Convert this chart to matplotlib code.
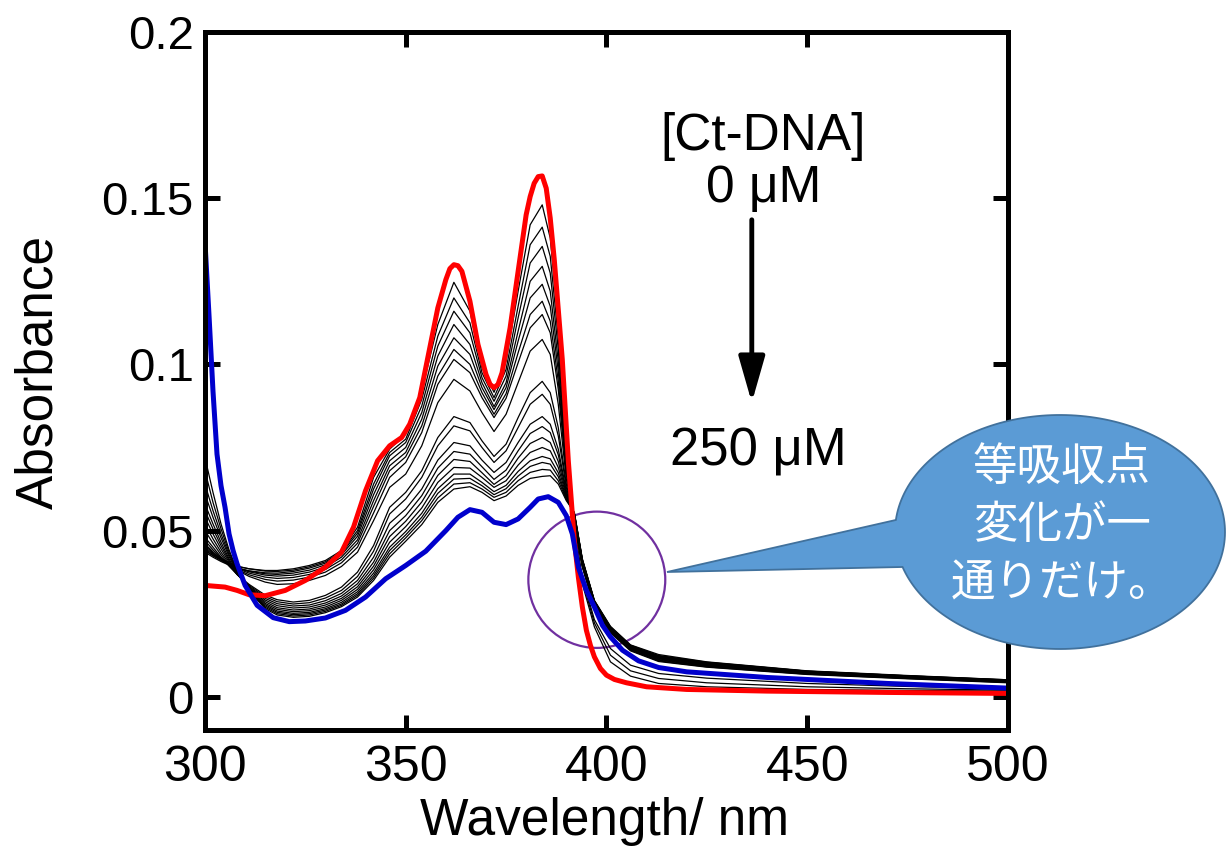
import numpy as np
import matplotlib.pyplot as plt
from matplotlib.patches import Ellipse, Polygon

plt.rcParams['font.family'] = ['Liberation Sans', 'Noto Sans CJK JP', 'DejaVu Sans']

# 0 uM spectrum (red)
RED_NM = [300, 305, 308, 311, 315, 320, 325, 330, 334, 337, 340, 343, 346, 349, 351,
          353.5, 356, 358, 360, 361, 362, 363, 364, 366, 368, 370, 371, 372, 373, 374,
          376, 378, 380, 381, 382, 383, 384, 385, 386, 387, 389, 390.5, 392, 393, 394,
          395, 396, 397, 398.5, 400, 402, 405, 410, 420, 440, 470, 500]
RED_ABS = [0.0335, 0.0330, 0.0320, 0.0307, 0.0304, 0.0320, 0.0350, 0.0390, 0.0435, 0.0510,
           0.0620, 0.0710, 0.0755, 0.0780, 0.0820, 0.0900, 0.1050, 0.1170, 0.1255, 0.1288,
           0.1300, 0.1297, 0.1280, 0.1190, 0.1060, 0.0970, 0.0940, 0.0930, 0.0940, 0.0975,
           0.1110, 0.1280, 0.1450, 0.1505, 0.1545, 0.1565, 0.1567, 0.1530, 0.1440, 0.1316,
           0.1015, 0.0710, 0.0470, 0.0360, 0.0270, 0.0200, 0.0155, 0.0120, 0.0085, 0.0065,
           0.0052, 0.0042, 0.0030, 0.0022, 0.0017, 0.0013, 0.0010]

# 250 uM spectrum (blue)
BLUE_NM = [300, 301, 302, 303, 304, 305, 306, 307, 308, 310, 313, 317, 321, 325, 330,
           335, 340, 345, 350, 355, 360, 363, 366, 369, 372, 375, 378, 381, 383, 385.5,
           388, 390, 391.5, 393, 395, 397, 399, 401, 404, 408, 413, 420, 440, 470, 500]
BLUE_ABS = [0.1370, 0.1150, 0.0920, 0.0730, 0.0635, 0.0570, 0.0490, 0.0440, 0.0400, 0.0335,
            0.0275, 0.0238, 0.0226, 0.0228, 0.0237, 0.0260, 0.0300, 0.0355, 0.0395, 0.0438,
            0.0500, 0.0540, 0.0563, 0.0555, 0.0525, 0.0518, 0.0535, 0.0570, 0.0595, 0.0602,
            0.0585, 0.0545, 0.0490, 0.0390, 0.0320, 0.0270, 0.0215, 0.0180, 0.0140, 0.0108,
            0.0088, 0.0075, 0.0058, 0.0040, 0.0026]

# intermediate titration spectra (black), all on one wavelength grid
GRID_NM = [300, 302, 304, 306, 308, 311, 315, 318, 322, 326, 330, 334, 338, 342, 346,
           350, 354, 358, 362, 366, 369, 372, 375, 378, 381, 384, 386, 388, 390,
           392, 394, 397, 401, 406, 413, 425, 450, 475, 500]
BLACK_ABS = [
    [.0440, .0425, .0412, .0400, .0392, .0385, .0380, .0380, .0385, .0395, .0410, .0440, .0510, .0660, .0745,
     .0790, .0920, .1120, .1247, .1160, .0990, .0916, .1010, .1220, .1420, .1480, .1380, .1120, .0740,
     .0500, .0340, .0210, .0105, .0062, .0040, .0030, .0022, .0019, .0017],
    [.0445, .0428, .0414, .0402, .0393, .0385, .0378, .0377, .0381, .0391, .0406, .0436, .0500, .0640, .0735,
     .0775, .0895, .1085, .1200, .1125, .0975, .0900, .0985, .1175, .1360, .1413, .1325, .1080, .0720,
     .0505, .0350, .0222, .0125, .0078, .0055, .0042, .0030, .0024, .0020],
    [.0435, .0420, .0407, .0396, .0387, .0379, .0373, .0372, .0377, .0387, .0402, .0432, .0492, .0625, .0725,
     .0765, .0875, .1055, .1160, .1095, .0960, .0889, .0965, .1140, .1305, .1355, .1275, .1045, .0710,
     .0510, .0358, .0232, .0145, .0095, .0070, .0056, .0040, .0031, .0024],
    [.0440, .0424, .0410, .0398, .0388, .0378, .0370, .0368, .0372, .0381, .0397, .0427, .0483, .0608, .0710,
     .0750, .0855, .1025, .1120, .1060, .0945, .0873, .0945, .1100, .1250, .1295, .1220, .1010, .0700,
     .0520, .0390, .0268, .0192, .0138, .0106, .0089, .0067, .0054, .0042],
    [.0450, .0430, .0414, .0400, .0388, .0376, .0366, .0363, .0366, .0375, .0390, .0420, .0472, .0590, .0695,
     .0735, .0835, .0995, .1080, .1030, .0930, .0864, .0930, .1070, .1200, .1241, .1175, .0980, .0690,
     .0523, .0392, .0270, .0194, .0140, .0108, .0090, .0068, .0055, .0043],
    [.0455, .0433, .0415, .0399, .0386, .0372, .0360, .0356, .0359, .0368, .0383, .0412, .0462, .0573, .0680,
     .0722, .0815, .0965, .1045, .1000, .0915, .0850, .0912, .1035, .1150, .1190, .1130, .0950, .0680,
     .0526, .0394, .0272, .0196, .0142, .0110, .0092, .0069, .0056, .0044],
    [.0460, .0436, .0415, .0398, .0383, .0367, .0353, .0348, .0351, .0360, .0375, .0403, .0450, .0553, .0660,
     .0705, .0795, .0940, .1015, .0975, .0900, .0840, .0898, .1005, .1110, .1150, .1095, .0925, .0670,
     .0529, .0396, .0274, .0198, .0143, .0112, .0093, .0070, .0057, .0045],
    [.0470, .0442, .0418, .0398, .0381, .0362, .0345, .0338, .0340, .0350, .0365, .0392, .0435, .0530, .0630,
     .0670, .0755, .0885, .0955, .0920, .0855, .0798, .0850, .0945, .1040, .1075, .1030, .0880, .0655,
     .0532, .0398, .0276, .0200, .0145, .0114, .0094, .0071, .0058, .0046],
    [.0480, .0450, .0420, .0393, .0368, .0338, .0306, .0292, .0285, .0290, .0305, .0330, .0375, .0455, .0570,
     .0615, .0680, .0780, .0843, .0825, .0770, .0723, .0760, .0840, .0915, .0949, .0915, .0810, .0640,
     .0540, .0402, .0278, .0202, .0147, .0116, .0096, .0072, .0059, .0047],
    [.0500, .0462, .0427, .0396, .0368, .0335, .0301, .0286, .0279, .0283, .0297, .0320, .0362, .0438, .0550,
     .0595, .0660, .0755, .0815, .0800, .0750, .0705, .0740, .0810, .0880, .0910, .0880, .0785, .0630,
     .0542, .0404, .0280, .0203, .0148, .0117, .0097, .0073, .0060, .0047],
    [.0520, .0475, .0435, .0400, .0368, .0332, .0296, .0280, .0273, .0276, .0289, .0311, .0350, .0420, .0522,
     .0565, .0625, .0712, .0765, .0755, .0712, .0675, .0705, .0765, .0820, .0843, .0820, .0745, .0620,
     .0544, .0406, .0282, .0204, .0149, .0118, .0098, .0074, .0060, .0048],
    [.0540, .0490, .0445, .0405, .0369, .0330, .0291, .0274, .0267, .0270, .0282, .0303, .0340, .0405, .0500,
     .0545, .0605, .0688, .0738, .0730, .0692, .0654, .0682, .0740, .0792, .0813, .0795, .0728, .0615,
     .0546, .0408, .0284, .0205, .0150, .0119, .0099, .0075, .0061, .0048],
    [.0560, .0505, .0455, .0410, .0371, .0328, .0286, .0268, .0261, .0264, .0276, .0296, .0331, .0393, .0482,
     .0528, .0586, .0666, .0714, .0708, .0674, .0639, .0665, .0718, .0762, .0780, .0765, .0708, .0610,
     .0548, .0409, .0285, .0206, .0151, .0120, .0100, .0075, .0061, .0049],
    [.0580, .0520, .0465, .0415, .0372, .0326, .0281, .0263, .0256, .0259, .0270, .0290, .0323, .0382, .0465,
     .0512, .0568, .0645, .0690, .0688, .0660, .0630, .0650, .0697, .0735, .0750, .0740, .0690, .0605,
     .0550, .0410, .0286, .0207, .0152, .0121, .0101, .0076, .0062, .0049],
    [.0610, .0540, .0478, .0422, .0375, .0324, .0277, .0258, .0251, .0254, .0265, .0284, .0316, .0372, .0450,
     .0497, .0552, .0626, .0670, .0670, .0645, .0617, .0636, .0678, .0710, .0723, .0716, .0674, .0600,
     .0551, .0411, .0287, .0208, .0153, .0122, .0102, .0076, .0062, .0050],
    [.0640, .0560, .0490, .0428, .0377, .0322, .0273, .0254, .0247, .0250, .0261, .0279, .0310, .0364, .0440,
     .0487, .0540, .0612, .0655, .0657, .0635, .0608, .0626, .0664, .0693, .0705, .0700, .0662, .0597,
     .0552, .0412, .0288, .0209, .0154, .0123, .0103, .0077, .0063, .0050],
    [.0680, .0585, .0505, .0435, .0379, .0320, .0269, .0250, .0243, .0246, .0257, .0275, .0305, .0357, .0430,
     .0478, .0530, .0598, .0640, .0644, .0625, .0600, .0615, .0650, .0675, .0684, .0682, .0650, .0594,
     .0553, .0413, .0289, .0210, .0155, .0124, .0104, .0077, .0063, .0051],
    [.0720, .0615, .0520, .0442, .0381, .0318, .0265, .0246, .0239, .0242, .0253, .0271, .0300, .0350, .0420,
     .0468, .0518, .0585, .0625, .0632, .0615, .0590, .0604, .0636, .0657, .0663, .0665, .0640, .0590,
     .0555, .0415, .0290, .0212, .0156, .0127, .0105, .0078, .0064, .0051],
]

X_TICKS = [300, 350, 400, 450, 500]
Y_TICKS = [0, 0.05, 0.1, 0.15, 0.2]
Y_TICK_LABELS = ['0', '0.05', '0.1', '0.15', '0.2']
BUBBLE_LINES = ['等吸収点', '変化が一', '通りだけ。']

fig = plt.figure(figsize=(12.28, 8.52), dpi=100)
ax = fig.add_axes([0.1669, 0.1432, 0.6539, 0.8192])

for row in BLACK_ABS:
    ax.plot(GRID_NM, row, color='black', lw=0.9)
ax.plot(RED_NM, RED_ABS, color='#ff0000', lw=3.6, solid_joinstyle='round')
ax.plot(BLUE_NM, BLUE_ABS, color='#0000cc', lw=3.6, solid_joinstyle='round')

ax.set_xlim(300, 500)
ax.set_ylim(-0.01, 0.2)
ax.set_xticks(X_TICKS)
ax.set_yticks(Y_TICKS)
ax.set_yticklabels(Y_TICK_LABELS)
ax.tick_params(direction='in', length=10.8, width=3.6, top=True, right=True)
ax.tick_params(axis='x', pad=11, labelsize=36)
ax.tick_params(axis='y', pad=8, labelsize=34)
for sp in ax.spines.values():
    sp.set_linewidth(3.6)

fig.text(39 / 1228, 1 - 372 / 852, 'Absorbance', rotation=90,
         ha='center', va='center', fontsize=37)
fig.text(605 / 1228, 1 - 822 / 852, 'Wavelength/ nm',
         ha='center', va='center', fontsize=37)

# concentration annotation
ax.text(439.0, 0.1685, '[Ct-DNA]', ha='center', va='center', fontsize=37)
ax.text(439.2, 0.1530, '0 μM', ha='center', va='center', fontsize=37)
ax.text(437.8, 0.0738, '250 μM', ha='center', va='center', fontsize=38)
ax.annotate('', xy=(436.2, 0.0885), xytext=(436.2, 0.1435),
            arrowprops=dict(arrowstyle='-|>,head_length=0.7,head_width=0.2',
                            color='black', lw=3.5, mutation_scale=40,
                            shrinkA=0, shrinkB=0))

# circle around the isosbestic region
ax.add_patch(Ellipse((397.6, 0.0352), width=34.1, height=0.041, fill=False,
                     edgecolor='#7030a0', lw=1.6))

# speech bubble (figure coordinates)
cx, cy, rx, ry = 1060 / 1228, 1 - 532 / 852, 165 / 1228, 117 / 852
tip = (667 / 1228, 1 - 572 / 852)
ang = np.radians(np.linspace(197.4, 174.1 + 360, 200))
pts = np.column_stack([cx + rx * np.cos(ang), cy + ry * np.sin(ang)])
pts = np.vstack([pts, tip])
fig.patches.append(Polygon(pts, closed=True, transform=fig.transFigure,
                           facecolor='#5b9bd5', edgecolor='#41719c', lw=1.3))
for i, line in enumerate(BUBBLE_LINES):
    fig.text(1062 / 1228, 1 - (467 + 58 * i) / 852, line, ha='center', va='center',
             fontsize=32, color='white', family=['Noto Sans CJK JP'])

fig.savefig('out.png', dpi=100)
